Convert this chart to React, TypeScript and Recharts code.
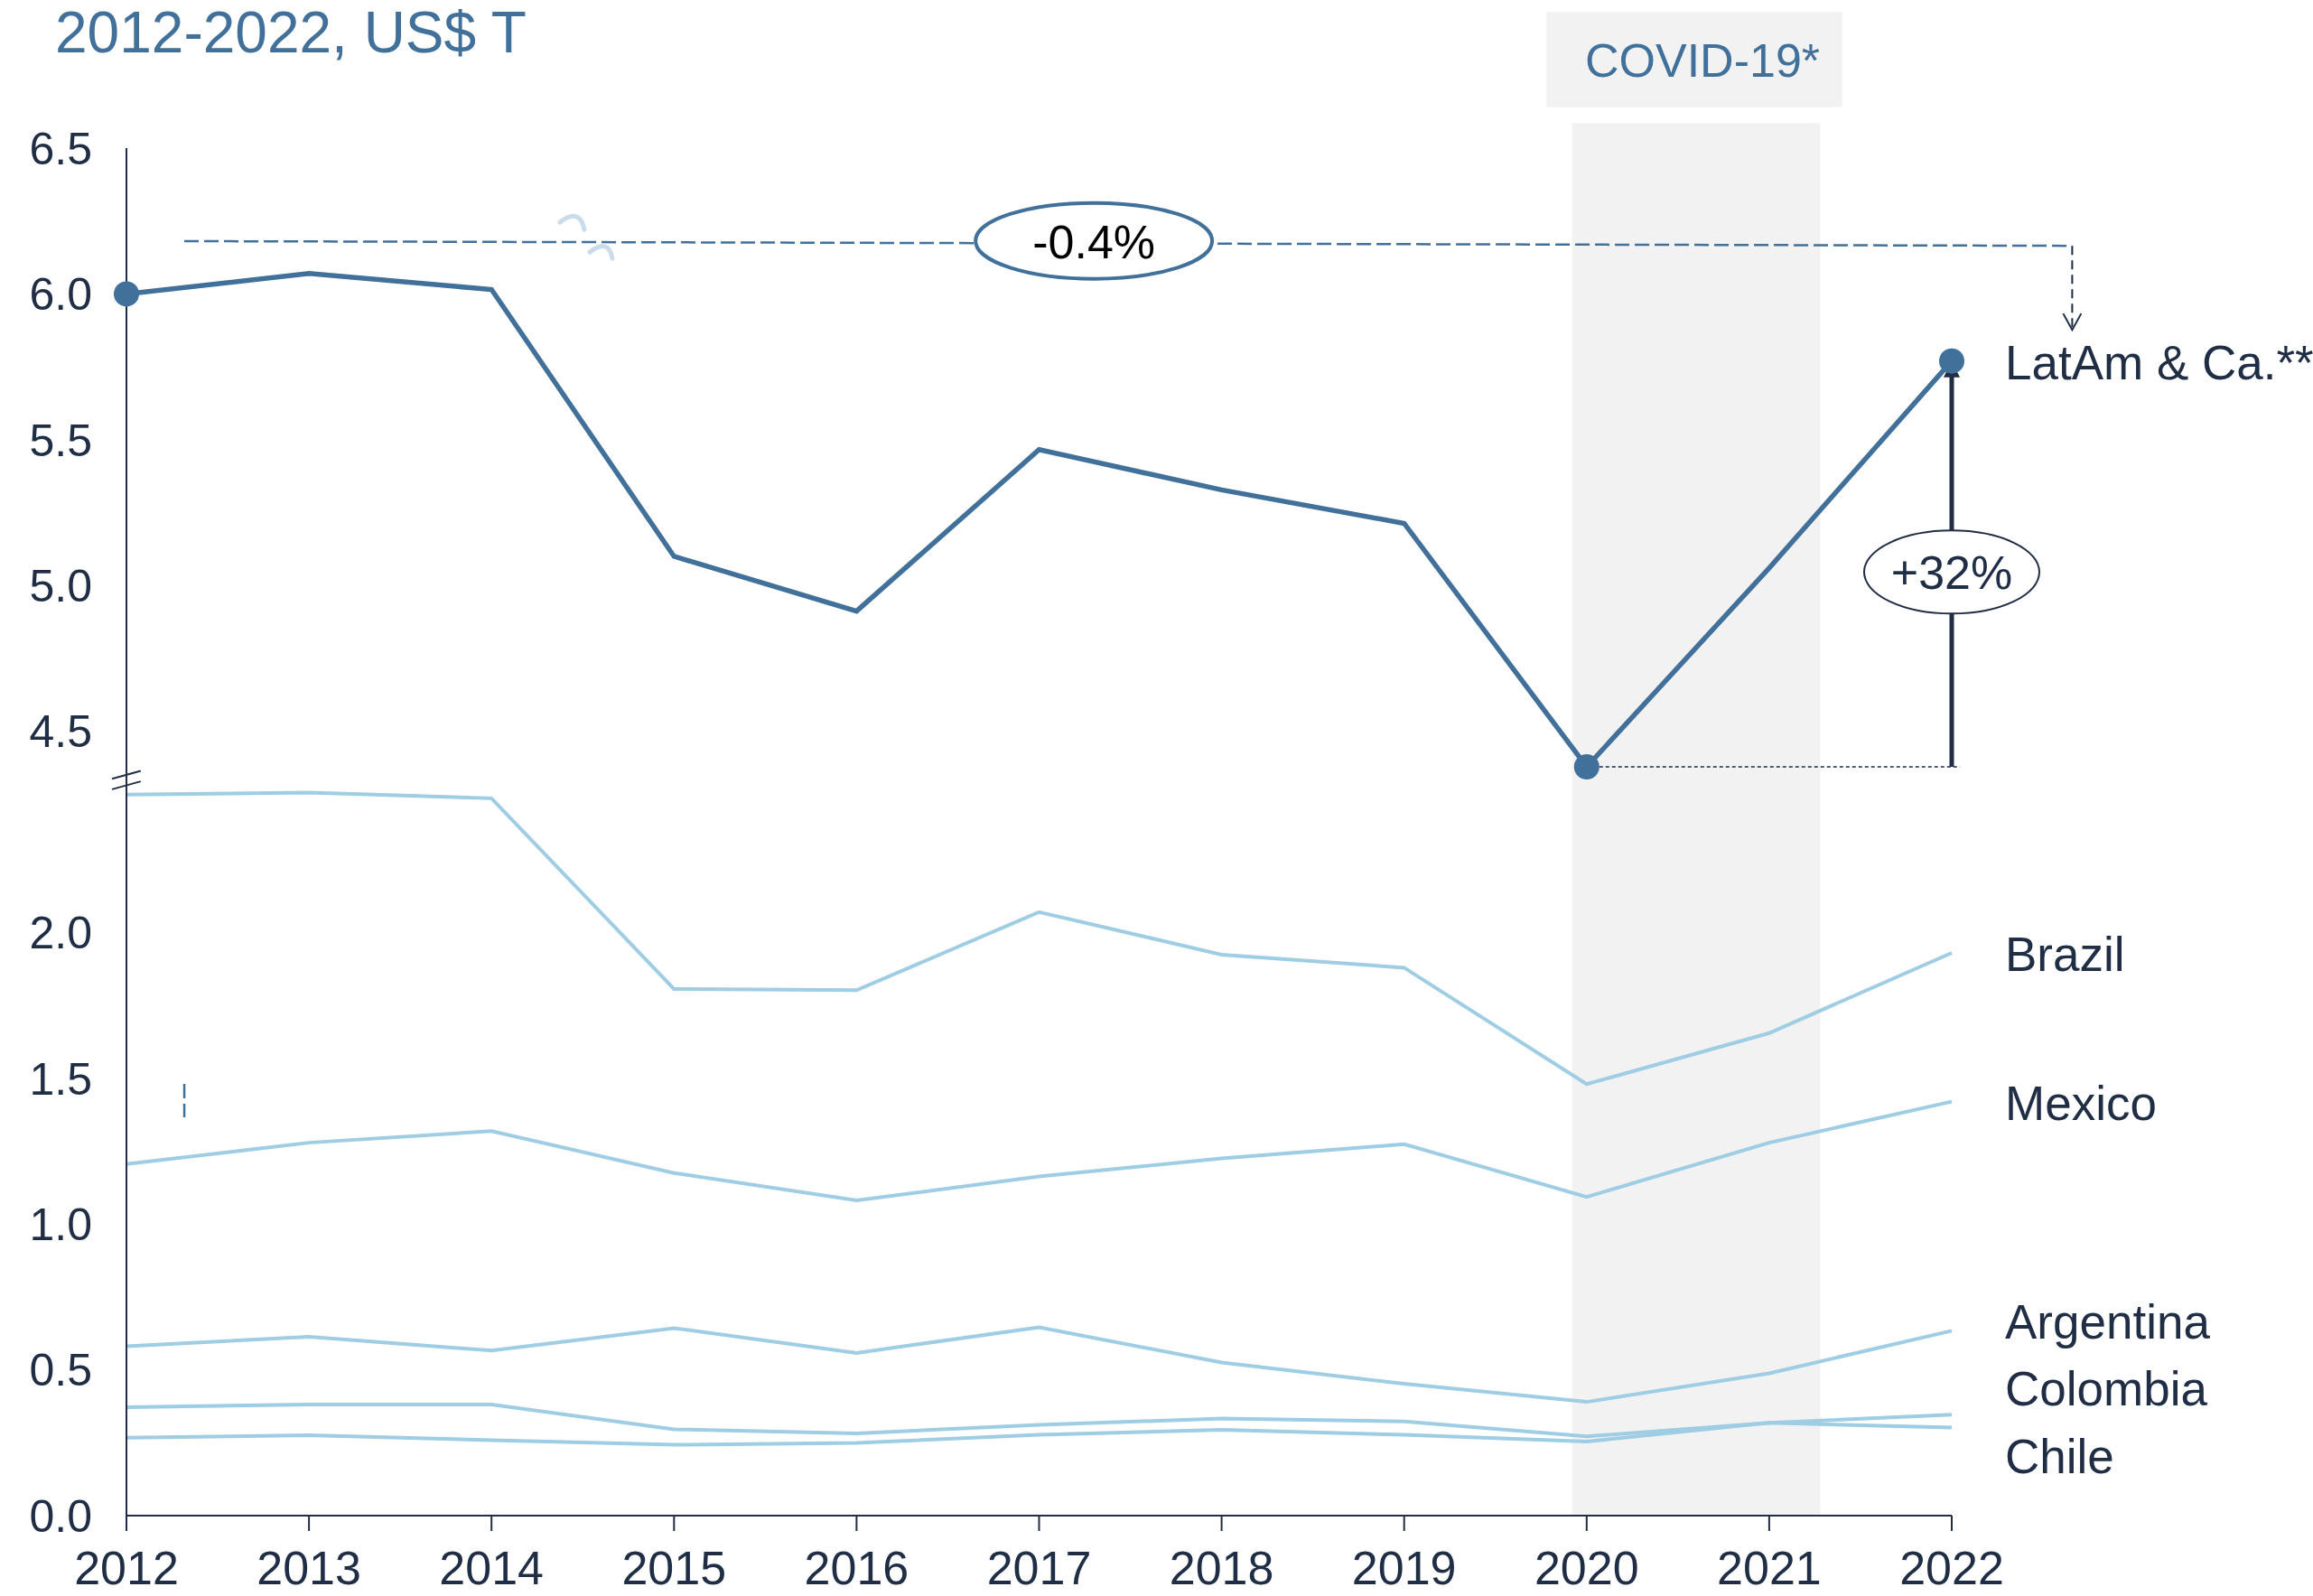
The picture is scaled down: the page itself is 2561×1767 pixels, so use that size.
import React from 'react';
import {
  LineChart,
  Line,
  XAxis,
  YAxis,
  ReferenceArea,
  ReferenceLine,
  ReferenceDot,
} from 'recharts';

// values in US$ T
const YEARS = [2012, 2013, 2014, 2015, 2016, 2017, 2018, 2019, 2020, 2021, 2022];
const LATAM = [6.0, 6.07, 6.015, 5.1, 4.912, 5.466, 5.328, 5.213, 4.378, 5.06, 5.77];
const BRAZIL = [2.473, 2.48, 2.46, 1.806, 1.802, 2.07, 1.924, 1.879, 1.48, 1.655, 1.93];
const MEXICO = [1.206, 1.279, 1.319, 1.175, 1.081, 1.163, 1.225, 1.274, 1.093, 1.279, 1.42];
const ARGENTINA = [0.581, 0.613, 0.566, 0.643, 0.558, 0.646, 0.525, 0.452, 0.39, 0.488, 0.634];
const COLOMBIA = [0.372, 0.381, 0.381, 0.296, 0.282, 0.311, 0.333, 0.323, 0.272, 0.318, 0.346];
const CHILE = [0.267, 0.276, 0.259, 0.243, 0.249, 0.277, 0.294, 0.277, 0.254, 0.318, 0.302];

const LOWER_TICKS = [0, 0.5, 1, 1.5, 2];
const UPPER_TICKS = [4.5, 5, 5.5, 6, 6.5];

// axis break: the upper panel is shifted down by GAP
const GAP = 1.81;
const BREAK = 2.52;
const Y_TOP = 6.5 - GAP;
const Y_TICKS = [...LOWER_TICKS, ...UPPER_TICKS.map((t) => t - GAP)];
const LOW_IDX = YEARS.indexOf(2020);
const LAST = YEARS.length - 1;

const NAVY = '#1f2d45';
const STEEL = '#41709a';
const SKY = '#9ecde4';
const BAND = '#f2f2f2';
const FONT = '"Liberation Sans", Arial, Helvetica, sans-serif';

const rows = YEARS.map((year, i) => ({
  year,
  latam: LATAM[i] - GAP,
  brazil: BRAZIL[i],
  mexico: MEXICO[i],
  argentina: ARGENTINA[i],
  colombia: COLOMBIA[i],
  chile: CHILE[i],
}));

const fmtY = (v: number) => (v > BREAK ? v + GAP : v).toFixed(1);

const nameDot = (name: string, dy: number) => (p: any) =>
  p.index === LAST ? (
    <text key={`lbl-${name}`} x={p.cx + 59} y={p.cy + dy} fill={NAVY} fontSize={53}>
      {name}
    </text>
  ) : (
    <g key={`dot-${name}-${p.index}`} />
  );

const latamDot = (p: any) => {
  const marked = p.index === 0 || p.index === LOW_IDX || p.index === LAST;
  return (
    <g key={`latam-${p.index}`}>
      {marked && <circle cx={p.cx} cy={p.cy} r={14} fill={STEEL} />}
      {p.index === LAST && (
        <text x={p.cx + 59} y={p.cy + 20} fill={NAVY} fontSize={53}>
          LatAm &amp; Ca.**
        </text>
      )}
    </g>
  );
};

const growthArrow = (p: any) => (
  <g>
    <line x1={p.x1} y1={p.y1} x2={p.x2} y2={p.y2 + 14} stroke={NAVY} strokeWidth={5} />
    <path d={`M${p.x2},${p.y2} L${p.x2 - 9},${p.y2 + 18} L${p.x2 + 9},${p.y2 + 18} Z`} fill={NAVY} />
  </g>
);

const openArrow = (p: any) => (
  <g>
    <line x1={p.x1} y1={p.y1} x2={p.x2} y2={p.y2} stroke={NAVY} strokeWidth={2} strokeDasharray="10 6" />
    <path
      d={`M${p.x2 - 10},${p.y2 - 18} L${p.x2},${p.y2} L${p.x2 + 10},${p.y2 - 18}`}
      fill="none"
      stroke={NAVY}
      strokeWidth={2}
    />
  </g>
);

const bubble = (text: string, rx: number, ry: number, stroke: string, sw: number, color: string) => (p: any) => (
  <g>
    <ellipse cx={p.cx} cy={p.cy} rx={rx} ry={ry} fill="#fff" stroke={stroke} strokeWidth={sw} />
    <text x={p.cx} y={p.cy + 19} textAnchor="middle" fill={color} fontSize={52}>
      {text}
    </text>
  </g>
);

const squiggle = (p: any) => (
  <g fill="none" stroke="#c8dcec" strokeWidth={5} strokeLinecap="round" strokeLinejoin="round">
    <path d={`M${p.cx - 30},${p.cy - 15} Q${p.cx - 8},${p.cy - 32} ${p.cx - 3},${p.cy - 7}`} />
    <path d={`M${p.cx + 3},${p.cy + 18} Q${p.cx + 24},${p.cy + 2} ${p.cx + 28},${p.cy + 25}`} />
  </g>
);

const covidLabel = (p: any) => {
  const vb = p.viewBox;
  return (
    <text x={vb.x + vb.width / 2 + 9} y={vb.y + vb.height / 2 + 19} textAnchor="middle" fill={STEEL} fontSize={52}>
      COVID-19*
    </text>
  );
};

export default function App() {
  return (
    <div
      style={{
        position: 'absolute',
        left: 0,
        top: 0,
        width: 2561,
        height: 1767,
        background: '#fff',
        fontFamily: FONT,
      }}
    >
      <svg width={800} height={80} style={{ position: 'absolute', left: 0, top: 0 }}>
        <text x={61} y={58} fill={STEEL} fontSize={64} fontFamily={FONT}>
          2012-2022, US$ T
        </text>
      </svg>
      <LineChart width={2561} height={1767} data={rows} margin={{ top: 164, right: 400, bottom: 0, left: 0 }}>
        <ReferenceArea x1={2019.92} x2={2021.28} y1={0} y2={4.776} fill={BAND} fillOpacity={1} stroke="none" ifOverflow="visible" />
        <ReferenceArea
          x1={2019.78}
          x2={2021.4}
          y1={4.831}
          y2={5.157}
          fill={BAND}
          fillOpacity={1}
          stroke="none"
          ifOverflow="visible"
          label={covidLabel}
        />
        <XAxis
          dataKey="year"
          type="number"
          domain={[2012, 2022]}
          ticks={YEARS}
          interval={0}
          height={89}
          tickSize={17}
          tickMargin={22}
          axisLine={{ stroke: NAVY, strokeWidth: 2 }}
          tickLine={{ stroke: NAVY, strokeWidth: 2 }}
          tick={{ fill: NAVY, fontSize: 52 }}
        />
        <YAxis
          type="number"
          domain={[0, Y_TOP]}
          ticks={Y_TICKS}
          interval={0}
          width={140}
          tickFormatter={fmtY}
          tickLine={false}
          tickMargin={32}
          axisLine={{ stroke: NAVY, strokeWidth: 2 }}
          tick={{ fill: NAVY, fontSize: 50 }}
        />
        <Line dataKey="brazil" stroke={SKY} strokeWidth={4} dot={nameDot('Brazil', 20)} activeDot={false} isAnimationActive={false} />
        <Line dataKey="mexico" stroke={SKY} strokeWidth={4} dot={nameDot('Mexico', 20)} activeDot={false} isAnimationActive={false} />
        <Line dataKey="argentina" stroke={SKY} strokeWidth={4} dot={nameDot('Argentina', 9)} activeDot={false} isAnimationActive={false} />
        <Line dataKey="colombia" stroke={SKY} strokeWidth={4} dot={nameDot('Colombia', -10)} activeDot={false} isAnimationActive={false} />
        <Line dataKey="chile" stroke={SKY} strokeWidth={4} dot={nameDot('Chile', 50)} activeDot={false} isAnimationActive={false} />
        <Line dataKey="latam" stroke={STEEL} strokeWidth={5.5} dot={latamDot} activeDot={false} isAnimationActive={false} />

        {/* axis break marks */}
        <ReferenceLine
          segment={[{ x: 2011.921, y: BREAK + 0.007 }, { x: 2012.078, y: BREAK + 0.034 }]}
          stroke={NAVY}
          strokeWidth={2}
          ifOverflow="visible"
        />
        <ReferenceLine
          segment={[{ x: 2011.921, y: BREAK - 0.029 }, { x: 2012.078, y: BREAK - 0.002 }]}
          stroke={NAVY}
          strokeWidth={2}
          ifOverflow="visible"
        />

        {/* CAGR bracket */}
        <ReferenceLine
          segment={[{ x: 2012.317, y: 6.181 - GAP }, { x: 2022.66, y: 6.165 - GAP }]}
          stroke={STEEL}
          strokeWidth={2.5}
          strokeDasharray="16 6"
          ifOverflow="visible"
        />
        <ReferenceLine
          segment={[{ x: 2022.66, y: 6.165 - GAP }, { x: 2022.66, y: 5.877 - GAP }]}
          shape={openArrow}
          ifOverflow="visible"
        />
        <ReferenceLine
          segment={[{ x: 2012.317, y: 1.481 }, { x: 2012.317, y: 1.366 }]}
          stroke={STEEL}
          strokeWidth={2.5}
          strokeDasharray="16 6"
          ifOverflow="visible"
        />
        <ReferenceDot x={2014.523} y={4.389} r={1} shape={squiggle} ifOverflow="visible" />
        <ReferenceDot x={2017.3} y={6.182 - GAP} r={1} shape={bubble('-0.4%', 131, 42, STEEL, 4, '#000')} ifOverflow="visible" />

        {/* recovery since 2020 */}
        <ReferenceLine
          segment={[{ x: 2020, y: LATAM[LOW_IDX] - GAP }, { x: 2022.045, y: LATAM[LOW_IDX] - GAP }]}
          stroke={NAVY}
          strokeWidth={1.5}
          strokeDasharray="4 3"
          ifOverflow="visible"
        />
        <ReferenceLine
          segment={[{ x: 2022, y: LATAM[LOW_IDX] - GAP }, { x: 2022, y: LATAM[LAST] - GAP }]}
          shape={growthArrow}
          ifOverflow="visible"
        />
        <ReferenceDot x={2022} y={5.046 - GAP} r={1} shape={bubble('+32%', 97, 46, NAVY, 2, NAVY)} ifOverflow="visible" />
      </LineChart>
    </div>
  );
}
